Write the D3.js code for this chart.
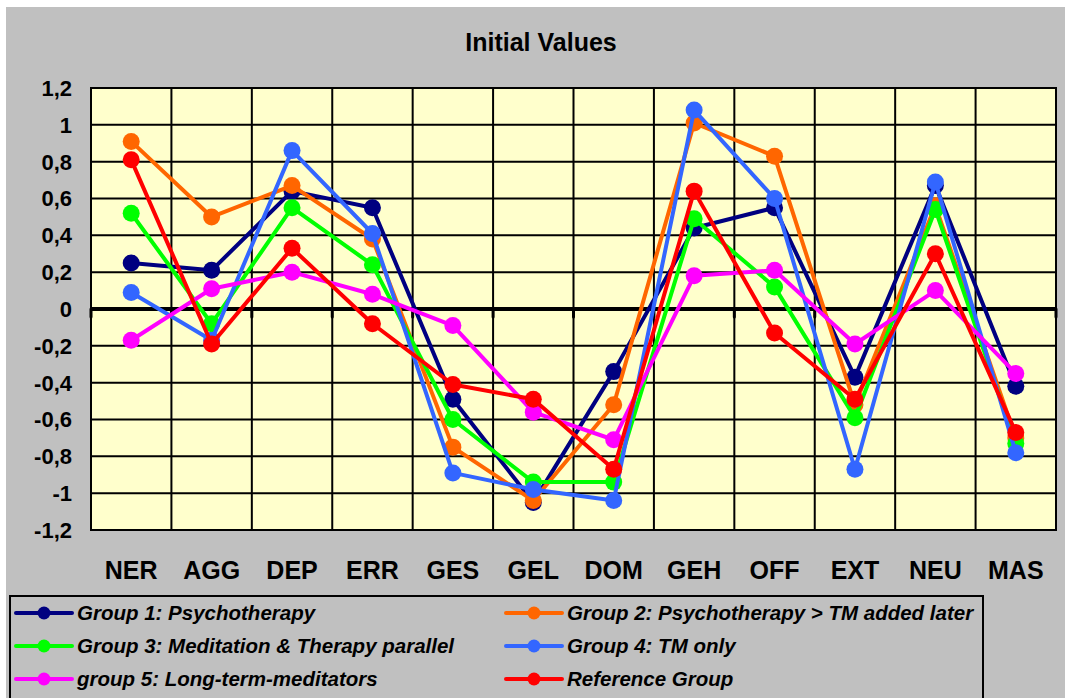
<!DOCTYPE html>
<html>
<head>
<meta charset="utf-8">
<script src="https://cdn.jsdelivr.net/npm/d3@7"></script>
<style>
  body { margin: 0; background: #fff; }
  svg { display: block; font-family: Arial, "Liberation Sans", sans-serif; }
</style>
</head>
<body>
<div id="chart"></div>
<script>
// categories (scales of the questionnaire)
const categories = ['NER', 'AGG', 'DEP', 'ERR', 'GES', 'GEL', 'DOM', 'GEH', 'OFF', 'EXT', 'NEU', 'MAS'];

// series values
const group1 = [0.25, 0.21, 0.64, 0.55, -0.49, -1.05, -0.34, 0.44, 0.55, -0.37, 0.67, -0.42];
const group2 = [0.91, 0.50, 0.67, 0.38, -0.75, -1.04, -0.52, 1.01, 0.83, -0.52, 0.56, -0.70];
const group3 = [0.52, -0.08, 0.55, 0.24, -0.60, -0.94, -0.94, 0.49, 0.12, -0.59, 0.54, -0.73];
const group4 = [0.09, -0.17, 0.86, 0.41, -0.89, -0.98, -1.04, 1.08, 0.60, -0.87, 0.69, -0.78];
const group5 = [-0.17, 0.11, 0.20, 0.08, -0.09, -0.56, -0.71, 0.18, 0.21, -0.19, 0.10, -0.35];
const reference = [0.81, -0.19, 0.33, -0.08, -0.41, -0.49, -0.87, 0.64, -0.13, -0.49, 0.30, -0.67];

const seriesNames = [
    'Group 1: Psychotherapy',
    'Group 2: Psychotherapy > TM added later',
    'Group 3: Meditation & Therapy parallel',
    'Group 4: TM only',
    'group 5: Long-term-meditators',
    'Reference Group'
];
const seriesColors = ['#000080', '#FF6600', '#00FF00', '#3366FF', '#FF00FF', '#FF0000'];

// y axis tick labels
const yTicks = [-1.2, -1, -0.8, -0.6, -0.4, -0.2, 0, 0.2, 0.4, 0.6, 0.8, 1, 1.2];

const width = 1065, height = 698;
const plot = { left: 91, right: 1056, top: 88, bottom: 530 };

const svg = d3.select('#chart').append('svg')
    .attr('width', width)
    .attr('height', height);

// grey background
svg.append('rect')
    .attr('x', 6).attr('y', 7)
    .attr('width', width - 6).attr('height', height - 7)
    .attr('fill', '#C0C0C0');

// scales
const x = d3.scaleBand().domain(categories).range([plot.left, plot.right]).padding(0);
const y = d3.scaleLinear().domain([-1.2, 1.2]).range([plot.bottom, plot.top]);

const locale = d3.formatLocale({ decimal: ',', thousands: '.', grouping: [3], currency: ['', ''], minus: '-' });
const fmt = locale.format('.1~f');

// plot area
svg.append('rect')
    .attr('x', plot.left).attr('y', plot.top)
    .attr('width', plot.right - plot.left).attr('height', plot.bottom - plot.top)
    .attr('fill', '#FFFFCC');

// horizontal grid
svg.append('g')
    .selectAll('line')
    .data(yTicks.filter(d => d !== 0))
    .enter()
    .append('line')
    .attr('x1', plot.left).attr('x2', plot.right)
    .attr('y1', d => y(d)).attr('y2', d => y(d))
    .attr('stroke', '#000').attr('stroke-width', 2);

// vertical grid at category boundaries
const boundaries = categories.map(c => x(c)).concat([plot.right]);
svg.append('g')
    .selectAll('line')
    .data(boundaries)
    .enter()
    .append('line')
    .attr('x1', d => d).attr('x2', d => d)
    .attr('y1', plot.top).attr('y2', plot.bottom)
    .attr('stroke', '#000').attr('stroke-width', 2);

// plot border
svg.append('rect')
    .attr('x', plot.left).attr('y', plot.top)
    .attr('width', plot.right - plot.left).attr('height', plot.bottom - plot.top)
    .attr('fill', 'none')
    .attr('stroke', '#000').attr('stroke-width', 2);

// zero axis with tick marks
svg.append('line')
    .attr('x1', plot.left).attr('x2', plot.right)
    .attr('y1', y(0)).attr('y2', y(0))
    .attr('stroke', '#000').attr('stroke-width', 4);

svg.append('g')
    .selectAll('line')
    .data(boundaries)
    .enter()
    .append('line')
    .attr('x1', d => d).attr('x2', d => d)
    .attr('y1', y(0)).attr('y2', y(0) + 8)
    .attr('stroke', '#000').attr('stroke-width', 3)
    .attr('stroke-linecap', 'round');

// y tick labels
svg.append('g')
    .selectAll('text')
    .data(yTicks)
    .enter()
    .append('text')
    .attr('x', 72)
    .attr('y', d => y(d))
    .attr('dy', '0.36em')
    .attr('text-anchor', 'end')
    .attr('font-size', '22px')
    .attr('font-weight', 'bold')
    .attr('fill', '#000')
    .text(d => fmt(d));

// x labels
svg.append('g')
    .selectAll('text')
    .data(categories)
    .enter()
    .append('text')
    .attr('x', d => x(d) + x.bandwidth() / 2)
    .attr('y', 579)
    .attr('text-anchor', 'middle')
    .attr('font-size', '25px')
    .attr('font-weight', 'bold')
    .attr('fill', '#000')
    .text(d => d);

// title
svg.append('text')
    .attr('x', 541)
    .attr('y', 51)
    .attr('text-anchor', 'middle')
    .attr('font-size', '25px')
    .attr('font-weight', 'bold')
    .attr('fill', '#000')
    .text('Initial Values');

// series
const allSeries = [group1, group2, group3, group4, group5, reference].map((vals, i) => ({
    name: seriesNames[i],
    color: seriesColors[i],
    values: vals.map((v, j) => ({ cat: categories[j], value: v }))
}));

const line = d3.line()
    .x(d => x(d.cat) + x.bandwidth() / 2)
    .y(d => y(d.value));

const series = svg.append('g')
    .selectAll('g')
    .data(allSeries)
    .enter()
    .append('g');

series.append('path')
    .attr('d', d => line(d.values))
    .attr('fill', 'none')
    .attr('stroke', d => d.color)
    .attr('stroke-width', 4)
    .attr('stroke-linejoin', 'round');

series.selectAll('circle')
    .data(d => d.values.map(v => ({ ...v, color: d.color })))
    .enter()
    .append('circle')
    .attr('cx', d => x(d.cat) + x.bandwidth() / 2)
    .attr('cy', d => y(d.value))
    .attr('r', 8.5)
    .attr('fill', d => d.color);

// legend
const legend = svg.append('g');
legend.append('rect')
    .attr('x', 10).attr('y', 596)
    .attr('width', 973).attr('height', 110)
    .attr('fill', 'none')
    .attr('stroke', '#000').attr('stroke-width', 2);

const colX = [16, 506];
const rowY = [613, 646, 679];

allSeries.forEach((s, i) => {
    const lx = colX[i % 2];
    const ly = rowY[Math.floor(i / 2)];
    const item = legend.append('g').attr('transform', `translate(${lx}, ${ly})`);
    item.append('line')
        .attr('x1', 0).attr('x2', 56)
        .attr('y1', 0).attr('y2', 0)
        .attr('stroke', s.color).attr('stroke-width', 4)
        .attr('stroke-linecap', 'round');
    item.append('circle')
        .attr('cx', 28).attr('cy', 0)
        .attr('r', 6.5)
        .attr('fill', s.color);
    item.append('text')
        .attr('x', 61)
        .attr('y', 0)
        .attr('dy', '0.36em')
        .attr('font-size', '20.5px')
        .attr('font-weight', 'bold')
        .attr('font-style', 'italic')
        .attr('fill', '#000')
        .text(s.name);
});
</script>
</body>
</html>
